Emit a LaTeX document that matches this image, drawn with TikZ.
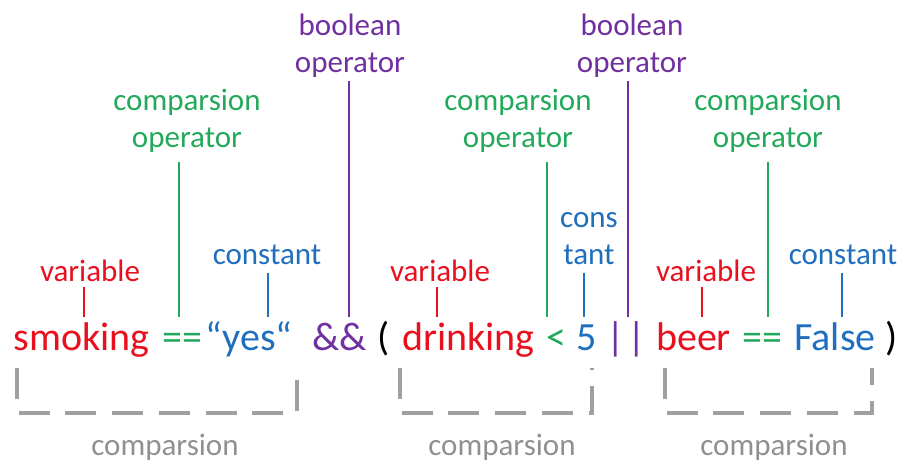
\documentclass[tikz,border=0pt]{standalone}
\usepackage{fontspec}
\setmainfont{Carlito}
\definecolor{varred}{RGB}{232,16,30}
\definecolor{cmpgreen}{RGB}{34,169,90}
\definecolor{constblue}{RGB}{31,111,191}
\definecolor{boolpurple}{RGB}{112,48,160}
\definecolor{brgray}{RGB}{160,160,160}
\begin{document}
\begin{tikzpicture}[x=1pt,y=-1pt,
  lab/.style={inner sep=0pt,anchor=base,align=center,font=\fontsize{31}{37}\selectfont},
  tok/.style={inner sep=0pt,anchor=base,font=\fontsize{40}{48}\selectfont},
  tick/.style={line width=2.6pt},
  bracket/.style={draw=brgray,line width=3.4pt,dash pattern=on 31pt off 15.7pt},
  brlab/.style={inner sep=0pt,anchor=base,text=brgray!90!black,font=\fontsize{31}{37}\selectfont}]
\useasboundingbox (0,0) rectangle (905,466);

% the expression, token by token
\node[tok,text=varred]     (smoking)  at (81.5,350) {smoking};
\node[tok,text=cmpgreen]   (eq1)      at (182.5,350) {==};
\node[tok,text=constblue]  (yes)      at (249,350) {“yes“};
\node[tok,text=boolpurple] (and)      at (340,350) {\&\&};
\node[tok]                 (lpar)     at (384,350) {(};
\node[tok,text=varred]     (drinking) at (468.5,350) {drinking};
\node[tok,text=cmpgreen]   (lt)       at (556.5,350) {<};
\node[tok,text=constblue]  (five)     at (587,350) {5};
\node[tok,text=boolpurple] (or)       at (626,350) {|\hspace{3pt}|};
\node[tok,text=varred]     (beer)     at (693.5,350) {beer};
\node[tok,text=cmpgreen]   (eq2)      at (762.5,350) {==};
\node[tok,text=constblue]  (false)    at (835,350) {False};
\node[tok]                 (rpar)     at (892,350) {)};

% labels above the expression (base = baseline of the last line)
\node[lab,text=boolpurple] (bool1) at (350,72)  {boolean\\operator};
\node[lab,text=boolpurple] (bool2) at (632,72)  {boolean\\operator};
\node[lab,text=cmpgreen]   (cmp1)  at (187,147) {comparsion\\operator};
\node[lab,text=cmpgreen]   (cmp2)  at (518,147) {comparsion\\operator};
\node[lab,text=cmpgreen]   (cmp3)  at (768,147) {comparsion\\operator};
\node[lab,text=constblue]  (const1) at (267,264) {constant};
\node[lab,text=constblue]  (const2) at (589,264) {cons\\tant};
\node[lab,text=constblue]  (const3) at (843,264) {constant};
\node[lab,text=varred]     (var1)  at (90,281)  {variable};
\node[lab,text=varred]     (var2)  at (440,281) {variable};
\node[lab,text=varred]     (var3)  at (706,281) {variable};

% upper ends of the pointer lines, lower ends on a common row
\coordinate (row) at (0,317);
\coordinate (pb1) at (349,81);
\coordinate (pb2) at (628,81);
\coordinate (pc1) at (179,162);
\coordinate (pc2) at (547,162);
\coordinate (pc3) at (768,162);
\coordinate (pk1) at (268,273);
\coordinate (pk2) at (584,273);
\coordinate (pk3) at (842,273);
\coordinate (pv1) at (84,287);
\coordinate (pv2) at (437,287);
\coordinate (pv3) at (702,287);

\draw[tick,boolpurple] (pb1) -- (pb1 |- row);
\draw[tick,boolpurple] (pb2) -- (pb2 |- row);
\draw[tick,cmpgreen]   (pc1) -- (pc1 |- row);
\draw[tick,cmpgreen]   (pc2) -- (pc2 |- row);
\draw[tick,cmpgreen]   (pc3) -- (pc3 |- row);
\draw[tick,constblue]  (pk1) -- (pk1 |- row);
\draw[tick,constblue]  (pk2) -- (pk2 |- row);
\draw[tick,constblue]  (pk3) -- (pk3 |- row);
\draw[tick,varred]     (pv1) -- (pv1 |- row);
\draw[tick,varred]     (pv2) -- (pv2 |- row);
\draw[tick,varred]     (pv3) -- (pv3 |- row);

% dashed brackets grouping each comparison
\coordinate (b1l) at (17,368);  \coordinate (b1r) at (297,368);
\coordinate (b2l) at (400,368); \coordinate (b2r) at (592,368);
\coordinate (b3l) at (665,368); \coordinate (b3r) at (872,368);
\draw[bracket] (b1l) -- ++(0,45) -| (b1r);
\draw[bracket] (b2l) -- ++(0,45) -| (b2r);
\draw[bracket] (b3l) -- ++(0,45) -| (b3r);

\node[brlab] (c1) at (165,455) {comparsion};
\node[brlab] (c2) at (502,455) {comparsion};
\node[brlab] (c3) at (774,455) {comparsion};
\end{tikzpicture}
\end{document}
